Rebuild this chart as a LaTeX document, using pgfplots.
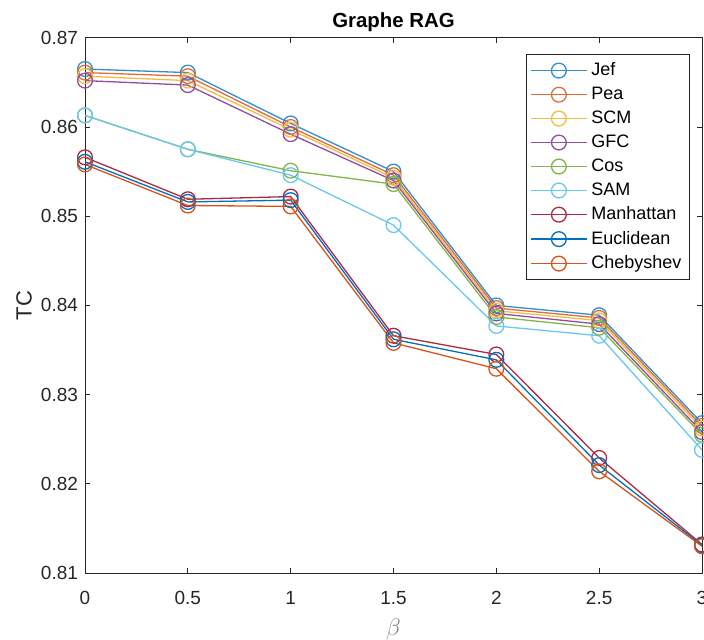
\documentclass[border=0pt]{standalone}
\usepackage{pgfplots}
\pgfplotsset{compat=1.18}
\usepackage{fontspec}
\setmainfont{Liberation Sans}
\definecolor{c1}{rgb}{0,0.447,0.741}
\definecolor{c2}{rgb}{0.85,0.325,0.098}
\definecolor{c3}{rgb}{0.929,0.694,0.125}
\definecolor{c4}{rgb}{0.494,0.184,0.556}
\definecolor{c5}{rgb}{0.466,0.674,0.188}
\definecolor{c6}{rgb}{0.301,0.745,0.933}
\definecolor{c7}{rgb}{0.635,0.078,0.184}
\definecolor{txt}{rgb}{0.15,0.15,0.15}
\begin{document}
\begin{tikzpicture}
\begin{axis}[
  at={(0,0)}, anchor=south west,
  scale only axis,
  width=308.5pt, height=267.6pt,
  xmin=0, xmax=3, ymin=0.81, ymax=0.87,
  xtick={0,0.5,1,1.5,2,2.5,3},
  xticklabels={0,0.5,1,1.5,2,2.5,3},
  ytick={0.81,0.82,0.83,0.84,0.85,0.86,0.87},
  yticklabels={0.81,0.82,0.83,0.84,0.85,0.86,0.87},
  tick align=inside,
  major tick length=2.6pt,
  axis line style={txt, line width=0.5pt},
  tick style={txt, line width=0.5pt},
  ticklabel style={font=\fontsize{9.5}{10}\selectfont, text=txt},
  xticklabel style={anchor=base, yshift=-15.5pt},
  title={\textbf{Graphe RAG}},
  title style={font=\fontsize{10.2}{11}\selectfont, text=black, at={(axis description cs:0.5,1)}, anchor=base, yshift=-1pt},
  ylabel={TC},
  ylabel style={font=\fontsize{11}{12}\selectfont, text=txt, at={(axis description cs:-0.0989,0.5)}, anchor=center},
  xlabel={$\beta$},
  xlabel style={font=\fontsize{12}{13}\selectfont, text=gray, at={(axis description cs:0.5,0)}, anchor=center, yshift=-28pt},
  legend style={at={(0.9805,0.9696)}, anchor=north east, draw=txt, line width=0.5pt,
    font=\fontsize{9}{10}\selectfont, row sep=0.2pt, inner sep=2pt},
  legend cell align=left,
  legend image code/.code={\draw[mark repeat=2,mark phase=2] plot coordinates {(0cm,0cm) (0.49cm,0cm) (0.98cm,0cm)};},
  every axis plot/.append style={line width=0.65pt, mark=o, mark size=3.7pt, mark options={solid}},
]
\addplot[c1!80] coordinates {(0,0.8665) (0.5,0.8661) (1,0.8604) (1.5,0.8550) (2,0.8400) (2.5,0.8389) (3,0.8268)};
\addlegendentry{Jef}
\addplot[c2!85] coordinates {(0,0.8661) (0.5,0.8657) (1,0.8600) (1.5,0.8546) (2,0.8397) (2.5,0.8386) (3,0.8265)};
\addlegendentry{Pea}
\addplot[c3!85] coordinates {(0,0.8657) (0.5,0.8652) (1,0.8597) (1.5,0.8543) (2,0.8394) (2.5,0.8383) (3,0.8262)};
\addlegendentry{SCM}
\addplot[c4!85] coordinates {(0,0.8652) (0.5,0.8647) (1,0.8592) (1.5,0.8540) (2,0.8391) (2.5,0.8379) (3,0.8258)};
\addlegendentry{GFC}
\addplot[c5!90] coordinates {(0,0.8613) (0.5,0.8575) (1,0.8551) (1.5,0.8536) (2,0.8387) (2.5,0.8375) (3,0.8255)};
\addlegendentry{Cos}
\addplot[c6!85] coordinates {(0,0.8613) (0.5,0.8575) (1,0.8546) (1.5,0.8490) (2,0.8377) (2.5,0.8366) (3,0.8238)};
\addlegendentry{SAM}
\addplot[c7!90] coordinates {(0,0.8566) (0.5,0.8519) (1,0.8522) (1.5,0.8366) (2,0.8345) (2.5,0.8229) (3,0.8132)};
\addlegendentry{Manhattan}
\addplot[c1] coordinates {(0,0.8561) (0.5,0.8516) (1,0.8518) (1.5,0.8362) (2,0.8339) (2.5,0.8221) (3,0.8131)};
\addlegendentry{Euclidean}
\addplot[c2] coordinates {(0,0.8558) (0.5,0.8512) (1,0.8511) (1.5,0.8358) (2,0.8329) (2.5,0.8214) (3,0.8130)};
\addlegendentry{Chebyshev}
\end{axis}
\pgfresetboundingbox
\path (-42.5pt,-33pt) rectangle (309.5pt,286.5pt);
\end{tikzpicture}
\end{document}
